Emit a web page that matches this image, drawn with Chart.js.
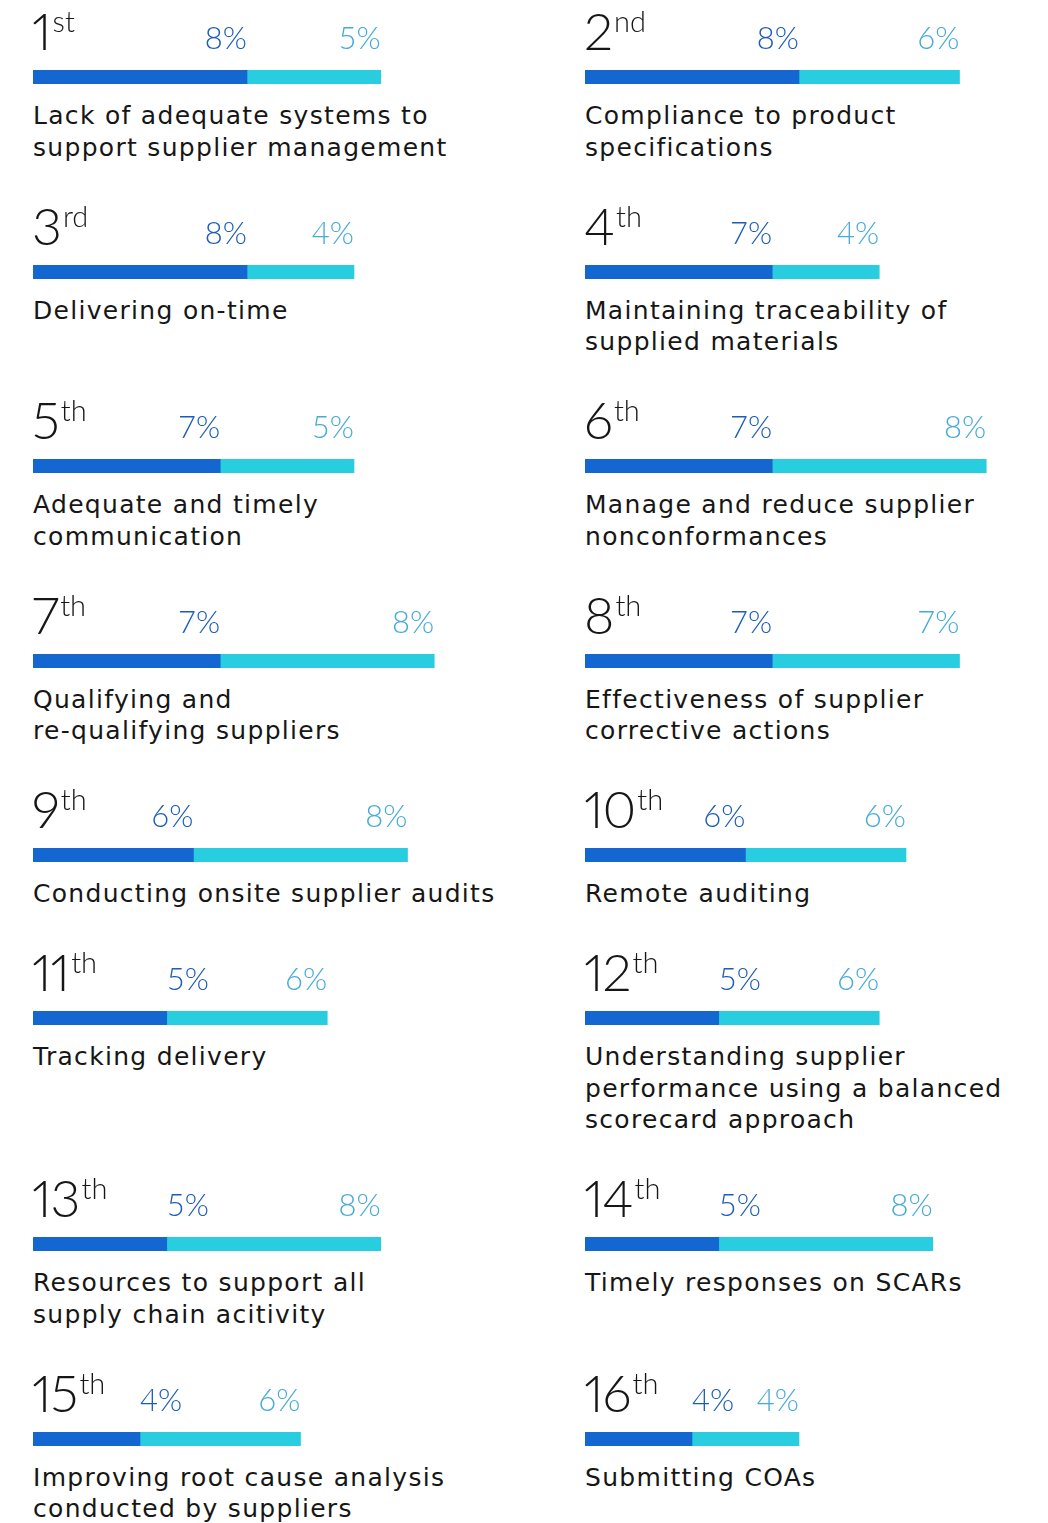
<!DOCTYPE html>
<html lang="en">
<head>
  <meta charset="UTF-8" />
  <title>Top supplier management challenges</title>
  <meta name="viewport" content="width=device-width, initial-scale=1.0" />
  <script src="https://cdn.jsdelivr.net/npm/chart.js"></script>
  <style>
    body {
      margin: 0;
      background: #fff;
      font-family: 'DejaVu Sans', 'Lato', sans-serif;
      color: #161616;
    }
    #grid {
      display: grid;
      grid-template-columns: 552px 463px;
      padding-left: 33px;
    }
    .head {
      position: relative;
      height: 84px;
    }
    .head canvas {
      position: absolute;
      left: 0;
      top: 0;
    }
    .rank {
      position: absolute;
      left: -1px;
      top: 4px;
      font-family: 'Lato', sans-serif;
      font-size: 52px;
      font-weight: 300;
      line-height: 52px;
      white-space: nowrap;
      font-variant-numeric: proportional-nums;
      letter-spacing: -1px;
    }
    .rank sup {
      font-size: 29px;
      vertical-align: top;
      position: relative;
      top: -9px;
      margin-left: 2px;
      letter-spacing: 0;
    }
    .desc {
      margin-top: 16px;
      font-size: 25px;
      line-height: 31.5px;
      letter-spacing: 1.3px;
      white-space: pre-line;
      padding-bottom: 31.5px;
    }
  </style>
</head>
<body>
  <div id="grid"></div>

  <script>
    const rankNumbers = [1, 2, 3, 4, 5, 6, 7, 8, 9, 10, 11, 12, 13, 14, 15, 16];
    const rankSuffixes = ['st', 'nd', 'rd', 'th', 'th', 'th', 'th', 'th', 'th', 'th', 'th', 'th', 'th', 'th', 'th', 'th'];
    const challenges = [
      'Lack of adequate systems to\nsupport supplier management',
      'Compliance to product\nspecifications',
      'Delivering on-time',
      'Maintaining traceability of\nsupplied materials',
      'Adequate and timely\ncommunication',
      'Manage and reduce supplier\nnonconformances',
      'Qualifying and\nre-qualifying suppliers',
      'Effectiveness of supplier\ncorrective actions',
      'Conducting onsite supplier audits',
      'Remote auditing',
      'Tracking delivery',
      'Understanding supplier\nperformance using a balanced\nscorecard approach',
      'Resources to support all\nsupply chain acitivity',
      'Timely responses on SCARs',
      'Improving root cause analysis\nconducted by suppliers',
      'Submitting COAs'
    ];
    const firstValues  = [8, 8, 8, 7, 7, 7, 7, 7, 6, 6, 5, 5, 5, 5, 4, 4];
    const secondValues = [5, 6, 4, 4, 5, 8, 8, 7, 8, 6, 6, 6, 8, 8, 6, 4];
    const xMax = 16;

    const darkBar = '#1467d1';
    const lightBar = '#28cde0';
    const darkText = '#1c5db9';
    const lightText = '#47abd7';

    // percent labels above each segment end
    const pctLabels = {
      id: 'pctLabels',
      afterDraw(chart) {
        const ctx = chart.ctx;
        const x = chart.scales.x;
        const base = chart.chartArea.top - 21;
        const a = chart.data.datasets[0].data[0];
        const b = chart.data.datasets[1].data[0];
        const aEnd = x.getPixelForValue(a);
        const bEnd = x.getPixelForValue(a + b);
        ctx.save();
        ctx.font = '300 31px Lato, "Open Sans", sans-serif';
        ctx.textBaseline = 'alphabetic';
        ctx.fillStyle = darkText;
        // short first segment: put label after it so it clears the rank
        ctx.textAlign = (aEnd - x.left < 150) ? 'left' : 'right';
        ctx.fillText(a + '%', aEnd, base);
        ctx.fillStyle = lightText;
        ctx.textAlign = 'right';
        ctx.fillText(b + '%', bEnd, base);
        ctx.restore();
      }
    };

    const grid = document.getElementById('grid');

    challenges.forEach((label, i) => {
      const panel = document.createElement('div');
      panel.className = 'panel';
      panel.innerHTML =
        `<div class="head"><canvas width="428" height="84"></canvas>` +
        `<div class="rank">${rankNumbers[i]}<sup>${rankSuffixes[i]}</sup></div></div>` +
        `<div class="desc"></div>`;
      panel.querySelector('.desc').textContent = label;
      grid.appendChild(panel);

      new Chart(panel.querySelector('canvas'), {
        type: 'bar',
        data: {
          labels: [label],
          datasets: [
            { label: 'Share A', data: [firstValues[i]], backgroundColor: darkBar, barThickness: 14, borderWidth: 0 },
            { label: 'Share B', data: [secondValues[i]], backgroundColor: lightBar, barThickness: 14, borderWidth: 0 }
          ]
        },
        options: {
          indexAxis: 'y',
          responsive: false,
          animation: false,
          layout: { padding: { top: 70, left: 0, right: 0, bottom: 0 } },
          plugins: { legend: { display: false }, tooltip: { enabled: false } },
          scales: {
            x: { stacked: true, min: 0, max: xMax, display: false },
            y: { stacked: true, display: false }
          }
        },
        plugins: [pctLabels]
      });
    });
  </script>
</body>
</html>
